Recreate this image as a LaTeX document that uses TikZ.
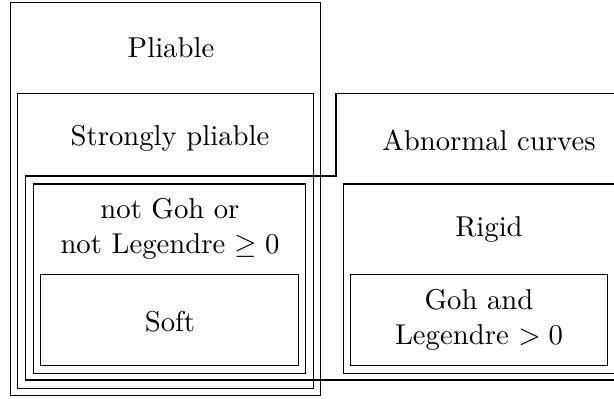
\documentclass[tikz,border=0pt]{standalone}
\begin{document}
\begin{tikzpicture}[x=0.3484pt,y=-0.3484pt,
  box/.style={draw=black,line width=0.4pt},
  lbl/.style={font=\normalsize,align=center,inner sep=0pt}]
\useasboundingbox (0,0) rectangle (614,398);
\clip (0,0) rectangle (614,398);
% Pliable
\draw[box] (10.7,2.7) rectangle (320.7,395.7);
% Strongly pliable
\draw[box] (17.7,93.3) rectangle (313.3,388.3);
% Abnormal curves (L-shaped, runs off the right edge)
\draw[box] (336,93.3) -- (700,93.3) -- (700,380) -- (25.7,380) -- (25.7,176) -- (336,176) -- cycle;
% not Goh or not Legendre
\draw[box] (33.3,184) rectangle (305.7,373.3);
% Soft
\draw[box] (40.7,274.7) rectangle (298.3,365.3);
% Rigid
\draw[box] (343.3,184) rectangle (700,373.3);
% Goh and Legendre
\draw[box] (350.7,274.7) rectangle (607.7,365.3);

\node[lbl] (pliable) at (171,48) {Pliable};
\node[lbl] (strong) at (170,138) {Strongly pliable};
\node[lbl] (abnormal) at (489,140) {Abnormal curves};
\node[lbl] (notgoh) at (170,229) {not Goh or\\not Legendre $\geq 0$};
\node[lbl] (soft) at (170,322) {Soft};
\node[lbl] (rigid) at (489,229) {Rigid};
\node[lbl] (goh) at (479,320) {Goh and\\Legendre $>0$};
\end{tikzpicture}
\end{document}
